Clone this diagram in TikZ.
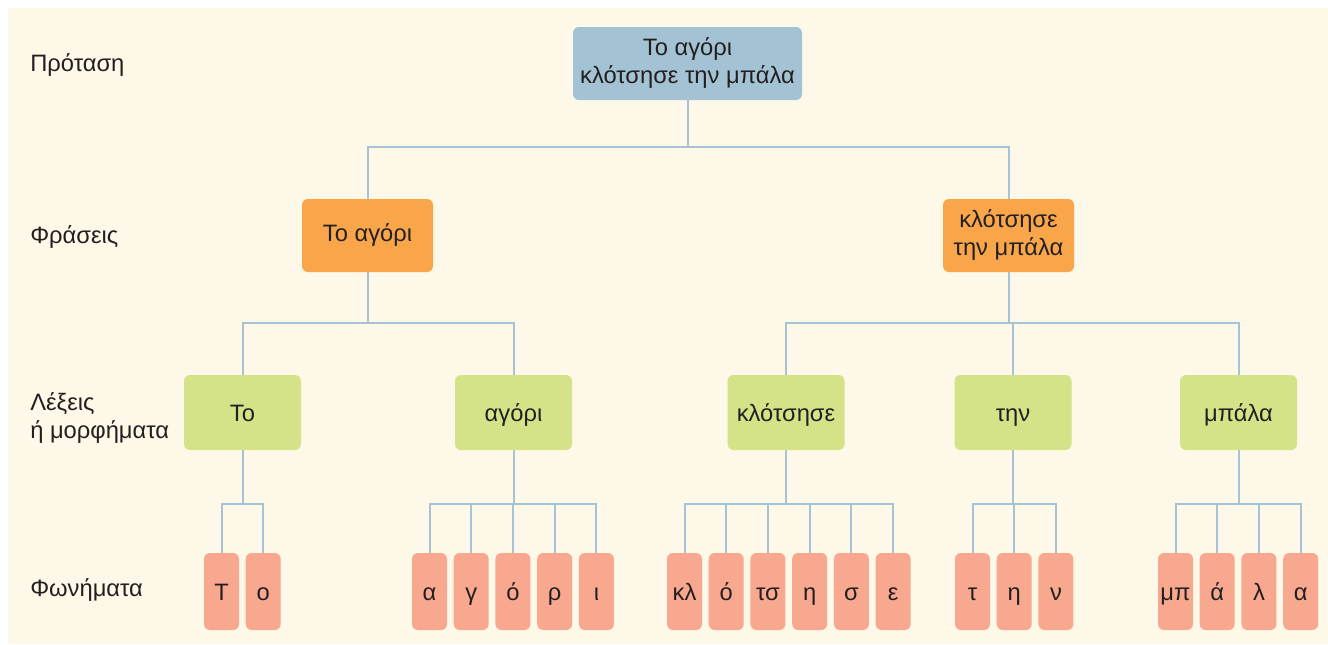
\documentclass[tikz,border=0pt]{standalone}
\usepackage{fontspec}
\setmainfont{Liberation Sans}
\usetikzlibrary{positioning}

\definecolor{paper}{RGB}{254,248,232}
\definecolor{ink}{RGB}{35,31,32}
\definecolor{wire}{RGB}{164,196,214}
\definecolor{sentbg}{RGB}{163,194,211}
\definecolor{phrasebg}{RGB}{249,166,74}
\definecolor{wordbg}{RGB}{213,227,136}
\definecolor{phonebg}{RGB}{248,168,142}

\begin{document}
\begin{tikzpicture}[
            x = 0.75pt, y = -0.75pt, % pixel grid, y runs down
            font = \fontsize{17.8pt}{21pt}\selectfont,
            text = ink,
            node distance = 4.65pt, % gap between phoneme boxes
            link/.style = {draw = wire, line width = 1.5pt},
            elbow/.style = {to path = {-- ++(0,#1) -| (\tikztotarget)}}
        ]

        \tikzstyle{box}=[
            rounded corners = 4.5pt,
            inner sep = 0pt,
            align = center
        ]
        \tikzstyle{sentence}=[box, fill = sentbg, minimum width = 171.75pt, minimum height = 54.75pt]
        \tikzstyle{phrase}=[box, fill = phrasebg, minimum width = 98.25pt, minimum height = 54.75pt]
        \tikzstyle{word}=[box, fill = wordbg, minimum width = 87.75pt, minimum height = 56.25pt,
            text height = 16pt, text depth = 3.2pt]
        \tikzstyle{phone}=[box, fill = phonebg, minimum width = 26.25pt, minimum height = 57.75pt,
            text height = 16pt, text depth = 3.2pt]
        \tikzstyle{level}=[anchor = west, inner sep = 0pt, align = left]

        \useasboundingbox (0,0) rectangle (1328,644);
        \fill[white] (0,0) rectangle (1328,644);
        \fill[paper] (8,8) rectangle (1328,644);

        \node[level] (lsent) at (30,65) {Πρόταση};
        \node[level] (lphrase) at (30,237) {Φράσεις};
        \node[level] (lword) at (30,418) {Λέξεις\\ή μορφήματα};
        \node[level] (lphone) at (30,590) {Φωνήματα};

        \node[sentence] (s) at (687.5,63.5) {Το αγόρι\\κλότσησε την μπάλα};

        \node[phrase] (np) at (367.5,235.5) {Το αγόρι};
        \node[phrase] (vp) at (1008.5,235.5) {κλότσησε\\την μπάλα};

        \node[word] (w1) at (242.5,412.5) {Το};
        \node[word] (w2) at (513.5,412.5) {αγόρι};
        \node[word] (w3) at (786,412.5) {κλότσησε};
        \node[word] (w4) at (1013,412.5) {την};
        \node[word] (w5) at (1238.5,412.5) {μπάλα};

        \node[phone] (p11) at (221.5,591.5) {Τ};
        \node[phone] (p12) [right=of p11] {ο};

        \node[phone] (p21) at (429.5,591.5) {α};
        \node[phone] (p22) [right=of p21] {γ};
        \node[phone] (p23) [right=of p22] {ό};
        \node[phone] (p24) [right=of p23] {ρ};
        \node[phone] (p25) [right=of p24] {ι};

        \node[phone] (p31) at (684.5,591.5) {κλ};
        \node[phone] (p32) [right=of p31] {ό};
        \node[phone] (p33) [right=of p32] {τσ};
        \node[phone] (p34) [right=of p33] {η};
        \node[phone] (p35) [right=of p34] {σ};
        \node[phone] (p36) [right=of p35] {ε};

        \node[phone] (p41) at (972.5,591.5) {τ};
        \node[phone] (p42) [right=of p41] {η};
        \node[phone] (p43) [right=of p42] {ν};

        \node[phone] (p51) at (1175.5,591.5) {μπ};
        \node[phone] (p52) [right=of p51] {ά};
        \node[phone] (p53) [right=of p52] {λ};
        \node[phone] (p54) [right=of p53] {α};

        \path[link, elbow=47] (s.south) edge (np.north) edge (vp.north);
        \path[link, elbow=51] (np.south) edge (w1.north) edge (w2.north);
        \path[link, elbow=51] (vp.south) edge (w3.north) edge (w4.north) edge (w5.north);

        \path[link, elbow=54] (w1.south) edge (p11.north) edge (p12.north);
        \path[link, elbow=54] (w2.south) edge (p21.north) edge (p22.north) edge (p23.north) edge (p24.north) edge (p25.north);
        \path[link, elbow=54] (w3.south) edge (p31.north) edge (p32.north) edge (p33.north) edge (p34.north) edge (p35.north) edge (p36.north);
        \path[link, elbow=54] (w4.south) edge (p41.north) edge (p42.north) edge (p43.north);
        \path[link, elbow=54] (w5.south) edge (p51.north) edge (p52.north) edge (p53.north) edge (p54.north);

  \end{tikzpicture}
\end{document}
